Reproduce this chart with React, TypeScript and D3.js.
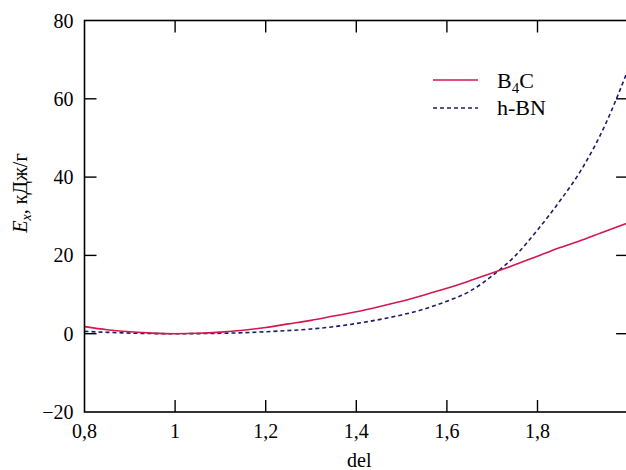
import React from "react";
import * as d3 from "d3";

// del values (x axis)
const delValues = [0.8, 0.85, 0.9, 0.95, 1.0, 1.05, 1.1, 1.15, 1.2, 1.25, 1.3, 1.35, 1.4, 1.45, 1.5, 1.55, 1.6, 1.65, 1.7, 1.75, 1.8, 1.85, 1.9, 1.95, 2.0];
// E_x, kJ/g
const b4cValues = [1.8, 1.0, 0.5, 0.15, 0, 0.1, 0.4, 0.9, 1.6, 2.5, 3.4, 4.5, 5.6, 6.9, 8.3, 9.9, 11.6, 13.5, 15.5, 17.6, 19.8, 22.0, 24.0, 26.2, 28.3];
const hbnValues = [0.6, 0.35, 0.15, 0.03, 0, 0.02, 0.1, 0.25, 0.5, 0.8, 1.2, 1.8, 2.6, 3.6, 4.8, 6.3, 8.3, 10.8, 14.8, 19.8, 26.5, 34.0, 42.5, 53.5, 67.5];

const xTicks = [0.8, 1, 1.2, 1.4, 1.6, 1.8];
const yTicks = [-20, 0, 20, 40, 60, 80];

const fmt = (v: number) => String(v).replace(".", ",");

export default function App() {
    const width = 626;
    const height = 470;
    const marginLeft = 84.5;
    const marginTop = 20.5;
    const marginBottom = 58;
    const tick = 12;
    const font = "'Liberation Serif', 'Times New Roman', serif";

    const x = d3.scaleLinear([0.8, 2.0], [marginLeft, marginLeft + 543.6]);
    const y = d3.scaleLinear([-20, 80], [height - marginBottom, marginTop]);
    const right = x(2.0);
    const bottom = y(-20);

    const line = d3.line<number>()
        .x((d, i) => x(delValues[i]))
        .y(d => y(d))
        .curve(d3.curveMonotoneX);

    return (
        <svg width={width} height={height} style={{ position: "absolute", left: 0, top: 0, background: "#fff" }}
            fontFamily={font}>
            <defs>
                <clipPath id="plot">
                    <rect x={marginLeft} y={marginTop} width={right - marginLeft} height={bottom - marginTop} />
                </clipPath>
            </defs>

            {/* curves */}
            <g clipPath="url(#plot)" fill="none">
                <path d={line(hbnValues) || ""} stroke="#1c1c6a" strokeWidth={1.6} strokeDasharray="4,3" />
                <path d={line(b4cValues) || ""} stroke="#d4174f" strokeWidth={1.6} />
            </g>

            {/* frame */}
            <rect x={marginLeft} y={marginTop} width={right - marginLeft} height={bottom - marginTop}
                fill="none" stroke="#000" strokeWidth={1.6} />

            {/* x ticks, bottom and top, pointing inward */}
            {xTicks.map(t => (
                <g key={"x" + t}>
                    {t !== 0.8 && <line x1={x(t)} x2={x(t)} y1={bottom} y2={bottom - tick} stroke="#000" strokeWidth={1.4} />}
                    {t !== 0.8 && <line x1={x(t)} x2={x(t)} y1={marginTop} y2={marginTop + tick} stroke="#000" strokeWidth={1.4} />}
                    <text x={x(t)} y={bottom + 26} textAnchor="middle" fontSize={20}>{fmt(t)}</text>
                </g>
            ))}

            {/* y ticks, left and right */}
            {yTicks.map(t => (
                <g key={"y" + t}>
                    {t !== -20 && t !== 80 && <line x1={marginLeft} x2={marginLeft + tick} y1={y(t)} y2={y(t)} stroke="#000" strokeWidth={1.4} />}
                    {t !== -20 && t !== 80 && <line x1={right} x2={right - tick} y1={y(t)} y2={y(t)} stroke="#000" strokeWidth={1.4} />}
                    <text x={marginLeft - 11} y={y(t)} dy="0.35em" textAnchor="end" fontSize={20}>
                        {t < 0 ? "\u2212" + Math.abs(t) : t}
                    </text>
                </g>
            ))}

            {/* axis titles */}
            <text x={x(1.4) + 3} y={467} textAnchor="middle" fontSize={20}>del</text>
            <text transform={`translate(27,${y(40) + 16}) rotate(-90)`} textAnchor="middle" fontSize={20}>
                <tspan fontStyle="italic">E</tspan>
                <tspan fontStyle="italic" fontSize={14} dy={4}>x</tspan>
                <tspan dy={-4}>, кДж/г</tspan>
            </text>

            {/* legend */}
            <line x1={433} x2={478} y1={80} y2={80} stroke="#d4174f" strokeWidth={1.6} />
            <text x={497} y={88} fontSize={22}>
                B<tspan fontSize={15} dy={5}>4</tspan><tspan dy={-5}>C</tspan>
            </text>
            <line x1={433} x2={478} y1={108} y2={108} stroke="#1c1c6a" strokeWidth={1.6} strokeDasharray="4,3" />
            <text x={497} y={115} fontSize={22}>h-BN</text>
        </svg>
    );
}
